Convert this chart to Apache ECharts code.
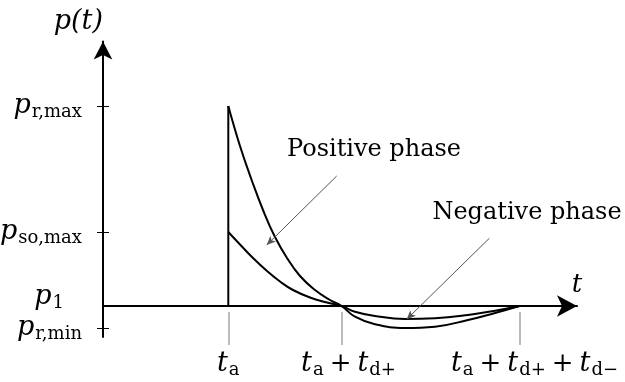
<!DOCTYPE html>
<html>
<head>
<meta charset="utf-8">
<script src="https://cdn.jsdelivr.net/npm/echarts@6/dist/echarts.min.js"></script>
<style>
  html, body { margin: 0; padding: 0; background: #fff; }
  #chart { width: 625px; height: 382px; }
</style>
</head>
<body>
<div id="chart"></div>
<script>
// Characteristic times (arbitrary units)
const tA = 12.53;
const tDPos = 11.32;
const tDNeg = 17.8;

// Characteristic pressures (arbitrary units, ambient p1 = 0)
const pRMax = 20.0;
const pSoMax = 7.4;
const p1 = 0;
const pRMin = -2.2;

// Reflected pressure history after arrival [t, p]
const reflected = [
  [12.53, 20.0], [13.7, 16.0], [14.9, 12.5], [16.0, 9.6], [17.2, 6.9],
  [18.4, 4.8], [19.7, 3.0], [21.2, 1.6], [22.7, 0.6], [23.85, 0],
  [25.2, -1.07], [27.2, -1.83], [30.2, -2.2], [33.2, -2.07], [36.5, -1.4],
  [39.2, -0.7], [41.65, 0]
];

// Incident (side-on) pressure history after arrival [t, p]
const incident = [
  [12.53, 7.4], [13.7, 6.15], [15.0, 4.8], [16.4, 3.5], [17.7, 2.45],
  [19.0, 1.6], [20.7, 0.85], [22.4, 0.35], [23.85, 0],
  [25.2, -0.57], [27.2, -1.0], [30.2, -1.3], [33.2, -1.23], [36.5, -0.9],
  [39.2, -0.47], [41.65, 0]
];

// Shock front: instantaneous rise at arrival
const shockFront = [[tA, 0], [tA, pRMax]];

// Y tick labels: main symbol and subscript (p1 and p_r,min kept apart in the list)
const yLabelValues = [p1, pRMax, pRMin, pSoMax];
const yLabelMain = ['p', 'p', 'p', 'p'];
const yLabelSub = ['1', 'r,max', 'r,min', 'so,max'];
const yTickValues = [pRMax, pSoMax, pRMin];

// X tick labels: sums of [symbol, subscript] terms
const xTickValues = [tA, tA + tDPos, tA + tDPos + tDNeg];
const xLabelTerms = [
  [['t', 'a']],
  [['t', 'a'], ['t', 'd+']],
  [['t', 'a'], ['t', 'd+'], ['t', 'd\u2212']]
];

// Annotations: text anchor and arrow from text to curve
const positiveText = 'Positive phase';
const positiveTextAt = [27.1, 15.6];
const positiveArrow = [[23.37, 13.0], [16.37, 6.1]];
const negativeText = 'Negative phase';
const negativeTextAt = [42.4, 9.3];
const negativeArrow = [[38.63, 6.77], [30.37, -1.33]];

const SERIF = "'DejaVu Serif', 'Liberation Serif', serif";
const BLACK = '#000';

const mathRich = {
  i: { fontFamily: SERIF, fontStyle: 'italic', fontSize: 27, color: BLACK },
  s: { fontFamily: SERIF, fontSize: 18, color: BLACK, padding: [12, 0, 0, 1] },
  sr: { fontFamily: SERIF, fontSize: 18, color: BLACK, padding: [12, 18, 0, 1] },
  o: { fontFamily: SERIF, fontSize: 26, color: BLACK, padding: [0, 6, 0, 6] },
  pad: { fontSize: 10, lineHeight: 18, color: 'rgba(0,0,0,0)' },
  sh1: { fontFamily: SERIF, fontStyle: 'italic', fontSize: 27, color: BLACK, padding: [0, 0, 0, 14] },
  sh2: { fontFamily: SERIF, fontStyle: 'italic', fontSize: 27, color: BLACK, padding: [0, 0, 0, 30] }
};

function nearestIndex(list, v) {
  let best = 0;
  for (let k = 1; k < list.length; k++) {
    if (Math.abs(list[k] - v) < Math.abs(list[best] - v)) best = k;
  }
  return best;
}

function yLabel(value) {
  const k = nearestIndex(yLabelValues, value);
  if (yLabelValues[k] === p1) {
    return '{i|' + yLabelMain[k] + '}{sr|' + yLabelSub[k] + '}\n{pad| }';
  }
  return '{i|' + yLabelMain[k] + '}{s|' + yLabelSub[k] + '}';
}

function xLabel(value) {
  const k = nearestIndex(xTickValues, value);
  const lead = ['i', 'sh1', 'sh2'][k];
  return xLabelTerms[k].map(function (term, j) {
    return '{' + (j === 0 ? lead : 'i') + '|' + term[0] + '}{s|' + term[1] + '}';
  }).join('{o|+}');
}

const chart = echarts.init(document.getElementById('chart'), null, { renderer: 'canvas' });

const xMin = 0, xMax = 47.4;
const yMin = -3.1, yMax = 26.45;

chart.setOption({
  animation: false,
  backgroundColor: '#fff',
  grid: {
    left: 103, right: 48, top: 41.5, bottom: 45,
    containLabel: false, outerBoundsMode: 'none'
  },
  xAxis: [
    {
      type: 'value', min: xMin, max: xMax, position: 'top',
      name: 't', nameLocation: 'end', nameGap: 0,
      nameTextStyle: {
        fontFamily: SERIF, fontStyle: 'italic', fontSize: 26, color: BLACK,
        align: 'center', verticalAlign: 'bottom', padding: [0, 0, 8, 0]
      },
      axisLine: {
        show: true, onZero: true,
        symbol: ['none', 'arrow'], symbolSize: [16, 20],
        lineStyle: { color: BLACK, width: 2 }
      },
      axisTick: { show: false }, axisLabel: { show: false }, splitLine: { show: false }
    },
    {
      type: 'value', min: xMin, max: xMax, position: 'bottom', offset: 8,
      axisLine: { show: false, onZero: false },
      axisTick: {
        show: true, inside: true, length: 33, customValues: xTickValues,
        lineStyle: { color: '#a6a6a6', width: 1.5 }
      },
      axisLabel: {
        show: true, customValues: xTickValues, margin: 4, hideOverlap: false,
        showMinLabel: true, showMaxLabel: true,
        formatter: xLabel, rich: mathRich
      },
      splitLine: { show: false }
    }
  ],
  yAxis: [
    {
      type: 'value', min: yMin, max: yMax, position: 'left',
      name: 'p(t)', nameLocation: 'end', nameGap: 6,
      nameTextStyle: {
        fontFamily: SERIF, fontStyle: 'italic', fontSize: 27, color: BLACK,
        align: 'right', verticalAlign: 'bottom'
      },
      axisLine: {
        show: true, onZero: true,
        symbol: ['none', 'arrow'], symbolSize: [14, 18],
        lineStyle: { color: BLACK, width: 2 }
      },
      axisTick: {
        show: true, length: 6, customValues: yTickValues,
        lineStyle: { color: BLACK, width: 1 }
      },
      axisLabel: {
        show: true, customValues: yLabelValues, margin: 21, hideOverlap: false,
        showMinLabel: true, showMaxLabel: true,
        formatter: yLabel, rich: mathRich
      },
      splitLine: { show: false }
    },
    {
      type: 'value', min: yMin, max: yMax, position: 'right',
      axisLine: { show: false, onZero: true },
      axisTick: {
        show: true, length: 6, customValues: yTickValues,
        lineStyle: { color: BLACK, width: 1 }
      },
      axisLabel: { show: false }, splitLine: { show: false }
    }
  ],
  series: [
    {
      name: 'Shock front', type: 'line', data: shockFront,
      xAxisIndex: 0, yAxisIndex: 0,
      symbol: 'none', clip: false,
      lineStyle: { color: BLACK, width: 2 }
    },
    {
      name: 'Reflected', type: 'line', data: reflected,
      xAxisIndex: 0, yAxisIndex: 0,
      symbol: 'none', smooth: 0.45, clip: false,
      lineStyle: { color: BLACK, width: 2 },
      markLine: {
        silent: true, symbol: ['none', 'arrow'], symbolSize: [6, 9],
        label: { show: false },
        lineStyle: { color: '#555', width: 1, type: 'solid' },
        data: [
          [{ coord: positiveArrow[0] }, { coord: positiveArrow[1] }],
          [{ coord: negativeArrow[0] }, { coord: negativeArrow[1] }]
        ]
      },
      markPoint: {
        silent: true, symbol: 'circle', symbolSize: 0,
        label: {
          show: true, position: 'inside', formatter: '{b}',
          fontFamily: SERIF, fontSize: 24, color: BLACK
        },
        data: [
          { name: positiveText, coord: positiveTextAt },
          { name: negativeText, coord: negativeTextAt }
        ]
      }
    },
    {
      name: 'Incident', type: 'line', data: incident,
      xAxisIndex: 0, yAxisIndex: 0,
      symbol: 'none', smooth: 0.45, clip: false,
      lineStyle: { color: BLACK, width: 2 }
    }
  ]
});
</script>
</body>
</html>
